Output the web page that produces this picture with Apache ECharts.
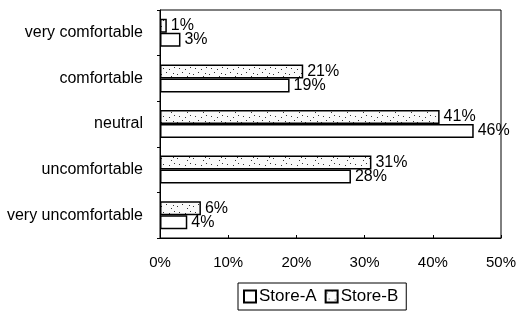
<!DOCTYPE html>
<html>
<head>
<meta charset="utf-8">
<script src="https://cdn.jsdelivr.net/npm/echarts@6/dist/echarts.min.js"></script>
<style>
  html, body { margin: 0; padding: 0; background: #fff; }
  #chart { width: 520px; height: 312px; }
</style>
</head>
<body>
<div id="chart"></div>
<script>
// datos
const categorias = ['very comfortable', 'comfortable', 'neutral', 'uncomfortable', 'very uncomfortable'];
const storeA = [3, 19, 46, 28, 4];
const storeB = [1, 21, 41, 31, 6];
const ticksX = [0, 10, 20, 30, 40, 50];

// trama punteada para Store-B (puntos fijos)
function crearTrama() {
    const c = document.createElement('canvas');
    c.width = 16;
    c.height = 12;
    const ctx = c.getContext('2d');
    ctx.fillStyle = '#fafafa';
    ctx.fillRect(0, 0, 16, 12);
    const puntos = [[1, 2], [6, 0], [11, 4], [3, 8], [9, 9], [14, 7], [13, 1]];
    ctx.fillStyle = '#333';
    puntos.forEach(p => ctx.fillRect(p[0], p[1], 1, 1));
    return c;
}

const chart = echarts.init(document.getElementById('chart'));
const fuente = 'Liberation Sans, Arial, sans-serif';

const labelBar = {
    show: true,
    position: 'right',
    distance: 4,
    color: '#000',
    fontFamily: fuente,
    fontSize: 16,
    formatter: p => p.value + '%'
};

chart.setOption({
    animation: false,
    grid: {
        left: 160,
        right: 19,
        top: 10,
        bottom: 74,
        show: true,
        borderColor: '#000',
        borderWidth: 1
    },
    legend: {
        data: ['Store-A', 'Store-B'],
        left: 238,
        top: 283,
        padding: [5, 8, 5, 5],
        itemGap: 8,
        itemWidth: 12,
        itemHeight: 12,
        borderColor: '#000',
        borderWidth: 1,
        icon: 'rect',
        textStyle: { color: '#000', fontFamily: fuente, fontSize: 17, padding: [0, 0, 0, -2] }
    },
    xAxis: {
        type: 'value',
        min: 0,
        max: 50,
        interval: 10,
        axisLine: { show: true, lineStyle: { color: '#000' } },
        axisTick: { show: true, inside: true, length: 3, lineStyle: { color: '#000' } },
        splitLine: { show: false },
        axisLabel: {
            color: '#000',
            fontFamily: fuente,
            fontSize: 15,
            margin: 17,
            formatter: v => ticksX.includes(v) ? v + '%' : ''
        }
    },
    yAxis: {
        type: 'category',
        data: categorias,
        inverse: true,
        axisLine: { show: true, lineStyle: { color: '#000' } },
        axisTick: { show: true, length: 3, lineStyle: { color: '#000' } },
        axisLabel: { color: '#000', fontFamily: fuente, fontSize: 16, margin: 17 }
    },
    series: [
        {
            name: 'Store-B',
            type: 'bar',
            data: storeB,
            barWidth: 14,
            barGap: '0%',
            itemStyle: { color: { image: crearTrama(), repeat: 'repeat' }, borderColor: '#000', borderWidth: 1.5 },
            label: labelBar
        },
        {
            name: 'Store-A',
            type: 'bar',
            data: storeA,
            barWidth: 14,
            barGap: '0%',
            itemStyle: { color: '#fff', borderColor: '#000', borderWidth: 1.5 },
            label: labelBar
        }
    ]
});
</script>
</body>
</html>
